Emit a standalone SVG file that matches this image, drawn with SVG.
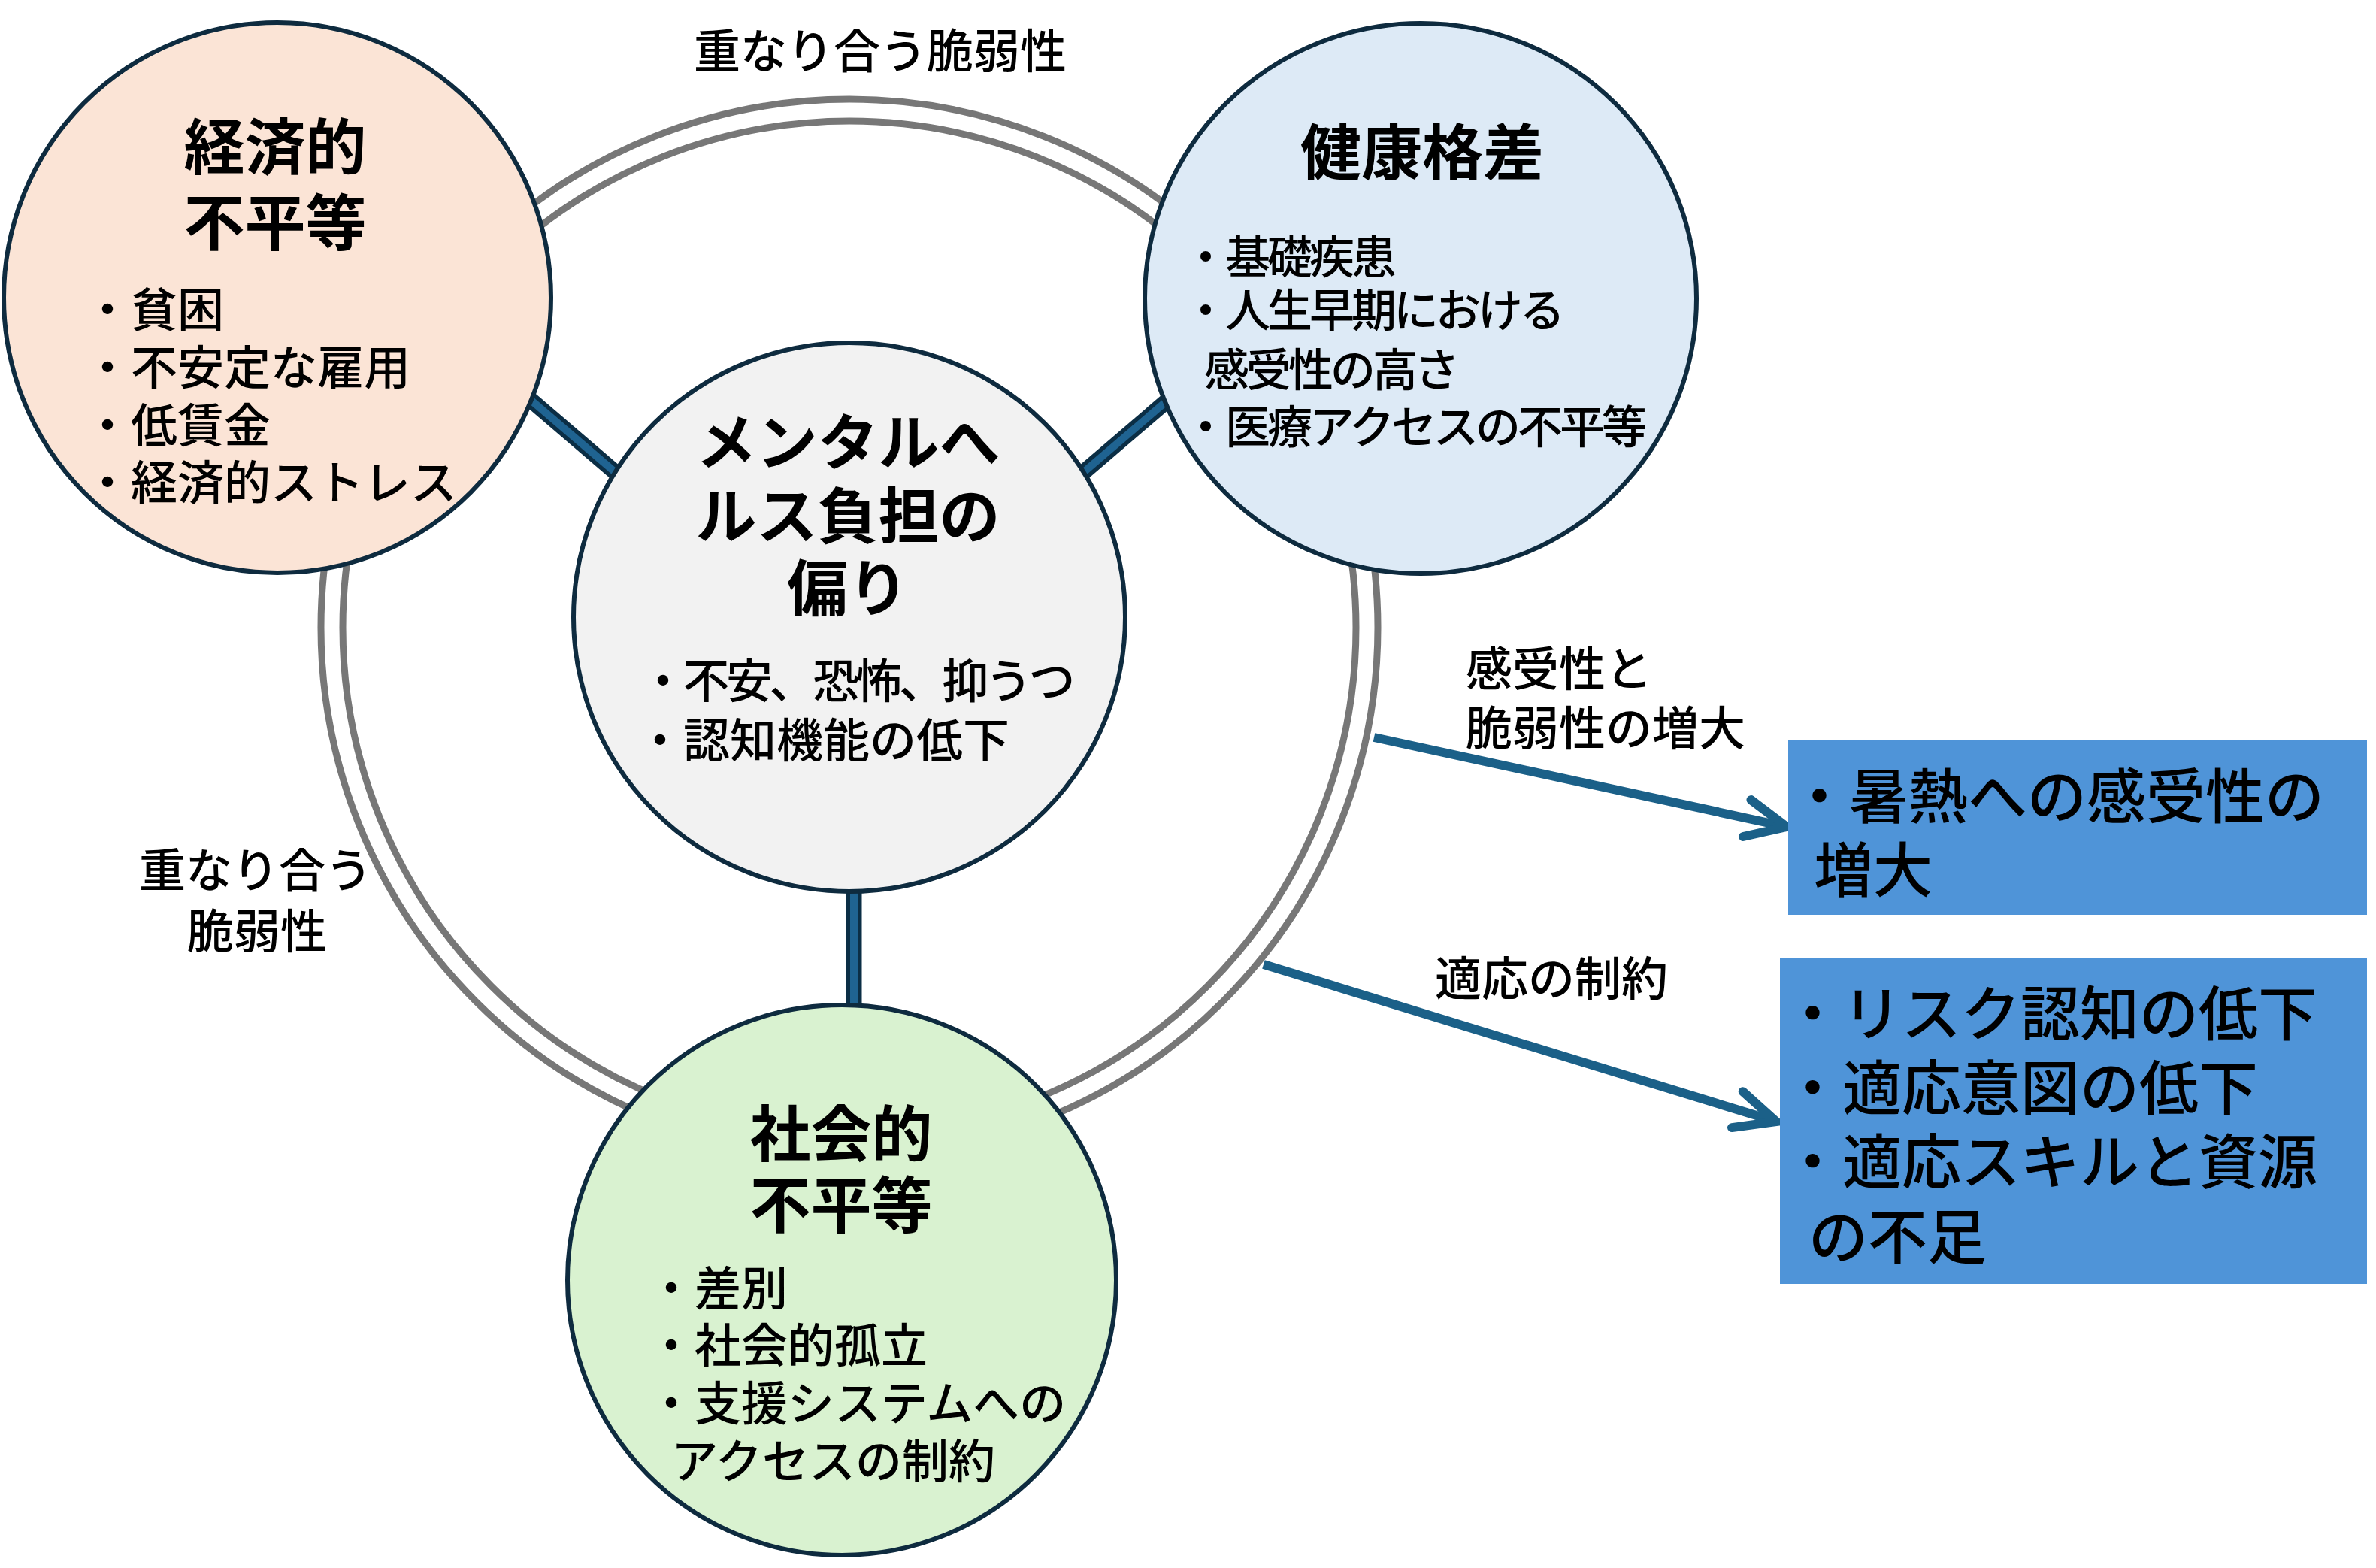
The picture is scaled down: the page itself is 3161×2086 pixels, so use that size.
<svg xmlns="http://www.w3.org/2000/svg" width="3161" height="2086" viewBox="0 0 3161 2086">
<style>
.t{font-family:"Liberation Sans","Noto Sans CJK JP","Noto Sans",sans-serif;fill:#000;font-weight:500}
.title{font-size:81px;font-weight:700;text-anchor:middle}
.bul{font-size:62px}
.hb{font-size:60px;letter-spacing:-4px}
.lab{font-size:62px}
.boxt{font-size:79px}
.circ{stroke:#0e2b3f;stroke-width:6}
.ring{fill:none;stroke:#777777;stroke-width:9}
.conO{stroke:#0b2e45;stroke-width:21;stroke-linecap:butt}
.conI{stroke:#1f6391;stroke-width:10;stroke-linecap:butt}
.arrow{fill:none;stroke:#1b6088;stroke-width:12;marker-end:url(#chev)}
.box{fill:#4F94D8}
</style>
<defs>
<marker id="chev" markerUnits="userSpaceOnUse" orient="auto" refX="0" refY="0" markerWidth="200" markerHeight="200" viewBox="-100 -100 200 200" overflow="visible">
<path d="M -54 -25 L 0 0 L -54 25" fill="none" stroke="#1b6088" stroke-width="12" stroke-linecap="round" stroke-linejoin="miter"/>
</marker>
</defs>
<rect x="0" y="0" width="3161" height="2086" fill="#ffffff"/>

<g id="ring">
<circle class="ring" cx="1130" cy="835" r="703"/>
<circle class="ring" cx="1130" cy="835" r="674"/>
<text class="t lab" x="1171" y="91" text-anchor="middle">重なり合う脆弱性</text>
<text class="t lab" text-anchor="middle"><tspan x="340" y="1181">重なり合う</tspan><tspan x="342" y="1262">脆弱性</tspan></text>
</g>

<g id="connectors">
<line class="conO" x1="692" y1="520" x2="838" y2="645"/>
<line class="conI" x1="692" y1="520" x2="838" y2="645"/>
<line class="conO" x1="1568" y1="520" x2="1422" y2="645"/>
<line class="conI" x1="1568" y1="520" x2="1422" y2="645"/>
<line class="conO" x1="1136" y1="1170" x2="1136" y2="1352"/>
<line class="conI" x1="1136" y1="1170" x2="1136" y2="1352"/>
<path class="arrow" d="M 1828 981 L 2377 1100"/>
<path class="arrow" d="M 1681 1283 L 2363 1492"/>
<text class="t lab"><tspan x="1950" y="913">感受性と</tspan><tspan x="1950" y="992">脆弱性の増大</tspan></text>
<text class="t lab" x="1909" y="1325">適応の制約</text>
</g>

<g id="node-economic">
<ellipse class="circ" cx="369" cy="396" rx="364" ry="366" fill="#FBE4D6"/>
<text class="t title"><tspan x="366" y="225">経済的</tspan><tspan x="366" y="326">不平等</tspan></text>
<text class="t bul"><tspan x="112" y="435">・貧困</tspan><tspan x="112" y="512">・不安定な雇用</tspan><tspan x="112" y="589">・低賃金</tspan><tspan x="112" y="665">・経済的ストレス</tspan></text>
</g>

<g id="node-health">
<ellipse class="circ" cx="1890" cy="397" rx="367" ry="366" fill="#DDEAF6"/>
<text class="t title" x="1892" y="232">健康格差</text>
<text class="t hb"><tspan x="1574" y="364">・基礎疾患</tspan><tspan x="1574" y="435">・人生早期における</tspan><tspan x="1602" y="514">感受性の高さ</tspan><tspan x="1574" y="590">・医療アクセスの不平等</tspan></text>
</g>

<g id="node-mental">
<ellipse class="circ" cx="1130" cy="821" rx="367" ry="365" fill="#F2F2F2"/>
<text class="t title"><tspan x="1128" y="618">メンタルへ</tspan><tspan x="1128" y="716">ルス負担の</tspan><tspan x="1128" y="812">偏り</tspan></text>
<text class="t bul"><tspan x="851" y="929" style="letter-spacing:-4.5px">・不安、恐怖、抑うつ</tspan><tspan x="847" y="1008">・認知機能の低下</tspan></text>
</g>

<g id="node-social">
<ellipse class="circ" cx="1120" cy="1703" rx="365" ry="366" fill="#D9F2D0"/>
<text class="t title"><tspan x="1119" y="1538">社会的</tspan><tspan x="1119" y="1633">不平等</tspan></text>
<text class="t bul"><tspan x="862" y="1737">・差別</tspan><tspan x="862" y="1813">・社会的孤立</tspan><tspan x="862" y="1890">・支援システムへの</tspan><tspan x="893" y="1967">アクセスの制約</tspan></text>
</g>

<g id="box-heat">
<rect class="box" x="2379" y="985" width="770" height="232"/>
<text class="t boxt"><tspan x="2381" y="1089">・暑熱への感受性の</tspan><tspan x="2413" y="1187">増大</tspan></text>
</g>

<g id="box-adapt">
<rect class="box" x="2368" y="1275" width="781" height="433"/>
<text class="t boxt"><tspan x="2372" y="1378">・リスク認知の低下</tspan><tspan x="2372" y="1477">・適応意図の低下</tspan><tspan x="2372" y="1575">・適応スキルと資源</tspan><tspan x="2406" y="1675">の不足</tspan></text>
</g>
</svg>
